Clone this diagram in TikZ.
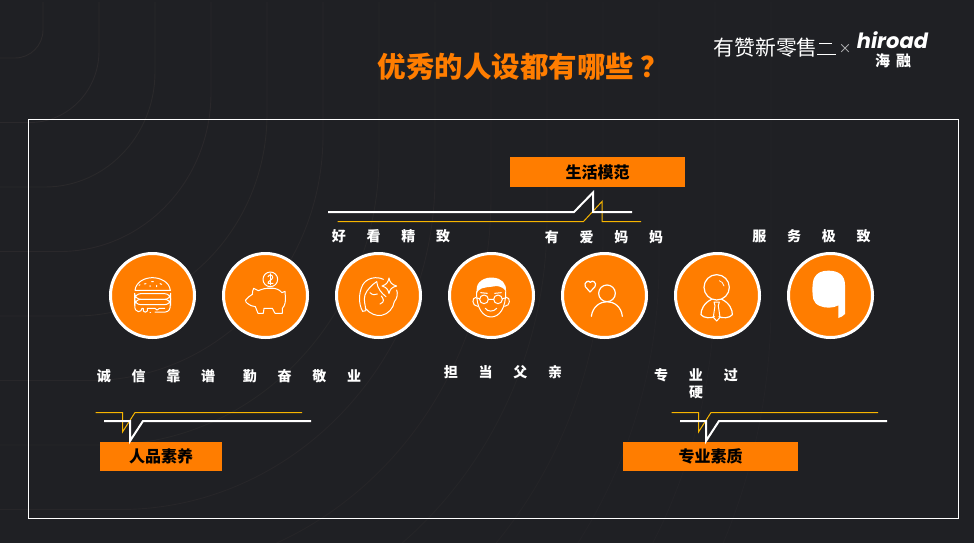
\documentclass[tikz,border=0pt]{standalone}
\usepackage{fontspec}
\setmainfont{Noto Sans CJK SC}
\newfontfamily\logolatin{Poppins}
\definecolor{bgdark}{HTML}{1F2024}
\definecolor{bgline}{HTML}{2C2A2C}
\definecolor{brand}{HTML}{FF7D00}
\definecolor{gold}{HTML}{F7B500}
\newcommand{\lgap}{\hspace{20.8pt}}
\tikzset{
  x=1pt,y=-1pt,
  badge/.style={circle,fill=brand,draw=white,line width=3pt,minimum size=84pt,inner sep=0pt},
  tag/.style={rectangle,fill=brand,inner sep=0pt,font=\bfseries\fontsize{16pt}{17pt}\selectfont,text=black},
  lab/.style={text=white,inner sep=0pt,font=\bfseries\fontsize{14pt}{15pt}\selectfont},
  bigline/.style={white,line width=2pt,line join=miter},
  thinline/.style={gold,line width=1pt,line join=miter},
  ico/.style={white,line width=1pt,line cap=round,line join=round},
  zoomed/.style={x=0.33333pt,y=-0.33333pt}
}
\begin{document}
\begin{tikzpicture}
\useasboundingbox (0,0) rectangle (974,543);
\fill[bgdark] (0,0) rectangle (974,543);
\begin{scope}
\clip (0,0) rectangle (974,543);
\foreach \k in {0,...,13}{
  \pgfmathsetmacro{\xk}{43+56*\k}
  \pgfmathsetmacro{\yk}{58+64.5*\k}
  \pgfmathsetmacro{\cx}{15+15*\k}
  \pgfmathsetmacro{\cy}{30+21*\k}
  \pgfmathsetmacro{\rx}{\xk-\cx}
  \pgfmathsetmacro{\ry}{\yk-\cy}
  \pgfmathsetmacro{\mixv}{max(30,100-6*\k)}
  \draw[bgline!\mixv!bgdark,line width=0.9pt] (\xk,2) -- (\xk,\cy) arc[start angle=0,end angle=90,x radius=\rx,y radius=\ry] -- (0,\yk);
}
\end{scope}
\node[text=brand,inner sep=0pt,font=\bfseries\fontsize{28.5pt}{30pt}\selectfont,anchor=west] (title) at (377.5,67) {优秀的人设都有哪些\hspace{6pt}？};
\draw[white,line width=1pt] (28.5,119.5) rectangle (958.5,518.5);
% logo
\node[text=white,inner sep=0pt,font=\fontsize{20.8pt}{22pt}\selectfont,anchor=west] (logoa) at (713.5,48) {有赞新零售};
\draw[white,line width=1.3pt] (819,43.5) -- (832,43.5) (817,54.5) -- (836,54.5);
\node[text=white!70!bgdark,inner sep=0pt,font=\fontsize{13pt}{14pt}\selectfont] (logox) at (845,49) {×};
\node[text=white,inner sep=0pt,text height=15pt,text depth=0pt,font=\logolatin\bfseries\itshape\fontsize{21pt}{22pt}\selectfont] (logob) at (892.5,41) {hiroad};
\node[text=white,inner sep=0pt,text height=12pt,text depth=1pt,font=\bfseries\fontsize{15pt}{16pt}\selectfont] (logoc) at (893,61) {海\hspace{6pt}融};
% tags
\node[tag,minimum width=175pt,minimum height=30pt] (life) at (597.5,172) {生活模范};
\node[tag,minimum width=122pt,minimum height=29pt] (char) at (161,456.5) {人品素养};
\node[tag,minimum width=175pt,minimum height=29pt] (prof) at (710.5,456.5) {专业素质};
% brackets
\draw[thinline] (337.5,221.5) -- (583.5,221.5) -- (602,201.5) -- (602,221.5) -- (641,221.5);
\draw[bigline] (328,212) -- (574,212) -- (593,192.5) -- (593,212) -- (632,212);
\draw[thinline] (95.5,412.5) -- (122.5,412.5) -- (122.5,432) -- (135,412.5) -- (302,412.5);
\draw[bigline] (104,421) -- (130,421) -- (130,441) -- (143,421) -- (311,421);
\draw[thinline] (671.5,412.5) -- (698.5,412.5) -- (698.5,432) -- (711,412.5) -- (878,412.5);
\draw[bigline] (680,421) -- (706,421) -- (706,441) -- (719,421) -- (887,421);
% labels
\node[lab] (l1) at (156,376) {诚\lgap 信\lgap 靠\lgap 谱};
\node[lab] (l2) at (302,376) {勤\lgap 奋\lgap 敬\lgap 业};
\node[lab] (l3) at (391,236) {好\lgap 看\lgap 精\lgap 致};
\node[lab] (l4) at (503,372) {担\lgap 当\lgap 父\lgap 亲};
\node[lab] (l5) at (604,237) {有\lgap 爱\lgap 妈\lgap 妈};
\node[lab] (l6) at (696,375) {专\lgap 业\lgap 过};
\node[lab] (l6b) at (696,392) {硬};
\node[lab] (l7) at (811.5,236) {服\lgap 务\lgap 极\lgap 致};
% badges
\foreach \n/\cxx in {a/152.5,b/265.5,c/378.5,d/491.5,e/604.5,f/717.5,g/830.5}
  \node[badge] (\n) at (\cxx,295.5) {};
% icons in crop coordinates of origin (90,240)
\begin{scope}[shift={(90,240)},zoomed]
% burger
\draw[ico] (135,151) .. controls (138,125) and (165,113) .. (187,113) .. controls (210,113) and (238,125) .. (241,151) -- cycle;
\draw[ico,rounded corners=6pt] (134,161) rectangle (242,178);
\draw[ico,rounded corners=6pt] (134,178) rectangle (242,194);
\draw[ico] (135,195) .. controls (133,208) and (138,214) .. (145,215) .. controls (152,214) and (155,212) .. (156,205) -- (160,205) -- (160,213) .. controls (162,218) and (170,218) .. (172,213) -- (172,205) -- (195,205) .. controls (196,212) and (206,212) .. (208,205) -- (224,205);
\draw[ico] (240,195) .. controls (242,208) and (236,215) .. (226,216) -- (195,216);
\draw[ico] (180,216) -- (182,216);
\draw[ico] (163,132)--(168,131) (185,125)--(190,125) (210,131)--(215,133) (180,137)--(180,140) (200,136)--(200,140) (147,136)--(150,134);
% piggy
\draw[ico] (541,118) circle[radius=22];
\draw[ico] (534,110) .. controls (538,102) and (549,104) .. (548,113) .. controls (546,121) and (533,123) .. (534,130) -- (549,130);
\draw[ico,line width=0.7pt] (541,101) -- (541,135);
\draw[ico] (467,180) .. controls (472,172) and (482,167) .. (487,163) .. controls (487,155) and (489,149) .. (491,145) -- (505,152) .. controls (525,143) and (560,138) .. (576,158) -- (585,154) -- (586,168) .. controls (588,185) and (584,198) .. (577,205) -- (577,220) -- (555,220) -- (547,205) -- (522,205) -- (520,220) -- (504,220) -- (496,200) .. controls (487,200) and (478,195) .. (472,190) .. controls (468,188) and (466,184) .. (467,180) -- cycle;
\draw[ico] (522,146) -- (556,146);
% face
\draw[ico] (818,214) .. controls (806,195) and (805,160) .. (818,135) .. controls (830,113) and (860,108) .. (880,118);
\draw[ico] (818,214) -- (828,212) .. controls (826,195) and (820,180) .. (825,165) .. controls (830,150) and (845,135) .. (860,125);
\draw[ico] (860,125) .. controls (862,145) and (875,160) .. (888,170);
\draw[ico] (826,205) .. controls (840,222) and (860,229) .. (875,226) .. controls (895,222) and (910,205) .. (913,185) .. controls (922,175) and (924,160) .. (920,150);
\draw[ico] (840,158) .. controls (847,165) and (855,166) .. (862,162);
\draw[ico] (874,168) .. controls (880,176) and (886,186) .. (870,192);
\draw[ico] (897,114) .. controls (900,128) and (905,134) .. (920,138) .. controls (905,142) and (900,147) .. (897,161) .. controls (894,147) and (889,142) .. (876,138) .. controls (889,134) and (894,128) .. (897,114) -- cycle;
\end{scope}
\begin{scope}[shift={(430,240)},zoomed]
% father
\fill[white] (140,150) .. controls (138,125) and (165,110) .. (190,113) .. controls (215,115) and (230,130) .. (228,155) .. controls (222,145) and (215,140) .. (200,138) .. controls (180,142) and (155,140) .. (145,152) -- (140,160) -- cycle;
\draw[ico] (140,155) .. controls (138,205) and (160,231) .. (183,231) .. controls (208,231) and (228,205) .. (227,155);
\draw[ico] (138,172) .. controls (125,172) and (125,198) .. (143,199);
\draw[ico] (229,172) .. controls (242,172) and (242,198) .. (224,199);
\draw[ico] (162,178) circle[radius=13];
\draw[ico] (204,178) circle[radius=13];
\draw[ico] (175,178) -- (191,178) (149,176) -- (140,174) (217,176) -- (227,174);
\draw[ico] (152,158) -- (172,160) (194,160) -- (214,158);
\draw[ico] (166,205) .. controls (172,216) and (192,216) .. (200,205);
% mom
\draw[ico,line width=1.2pt] (480,156) -- (466,140) .. controls (460,128) and (476,118) .. (481,127) .. controls (487,118) and (502,128) .. (495,140) -- cycle;
\draw[ico,line width=1.2pt] (531,160) circle[radius=25];
\draw[ico,line width=1.2pt] (484,229) .. controls (488,200) and (510,185) .. (531,185) .. controls (552,185) and (574,200) .. (577,229);
% professional
\draw[ico,line width=1.2pt] (860,142) circle[radius=38];
\draw[ico,line width=0.7pt] (868,122) .. controls (875,124) and (880,130) .. (882,138);
\draw[ico,line width=1.2pt] (845,178) .. controls (822,188) and (812,210) .. (813,224) .. controls (820,235) and (845,235) .. (853,230);
\draw[ico,line width=1.2pt] (875,178) .. controls (898,188) and (908,210) .. (907,224) .. controls (900,235) and (875,235) .. (867,230);
\draw[ico] (852,186) -- (868,186) -- (865,197) -- (870,232) -- (860,243) -- (850,232) -- (855,197) -- cycle;
% hair
\fill[white] (1150,178) .. controls (1146,160) and (1146,130) .. (1152,115) .. controls (1160,98) and (1175,92) .. (1195,92) .. controls (1225,92) and (1245,105) .. (1245,135) -- (1245,222) .. controls (1240,228) and (1232,232) .. (1225,234) -- (1225,196) .. controls (1210,205) and (1185,205) .. (1170,198) .. controls (1160,194) and (1153,188) .. (1150,178) -- cycle;
\end{scope}
\end{tikzpicture}
\end{document}
